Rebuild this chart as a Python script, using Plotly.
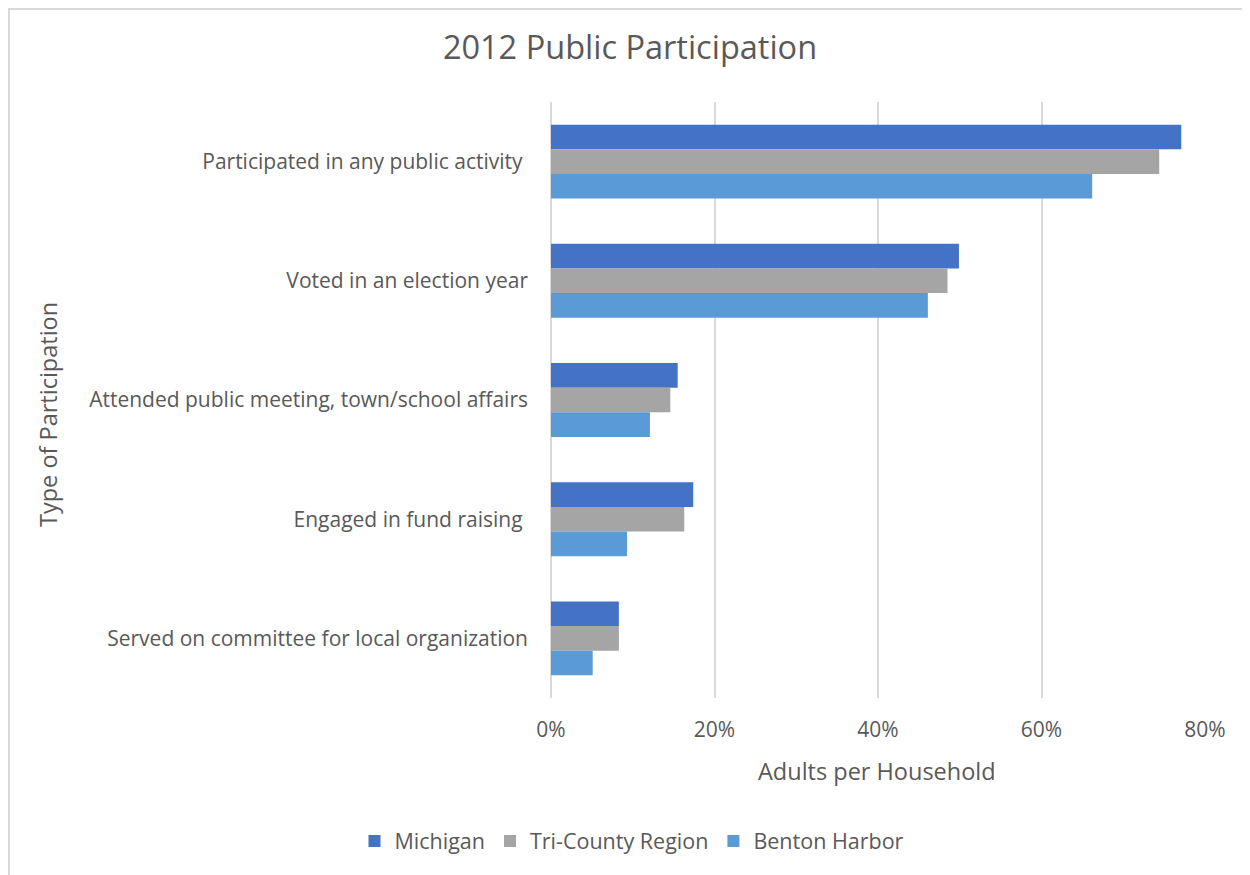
import plotly.graph_objects as go

categories = [
    "Participated in any public activity\u00a0",
    "Voted in an election year",
    "Attended public meeting, town/school affairs",
    "Engaged in fund raising\u00a0",
    "Served on committee for local organization",
]
michigan = [0.771, 0.499, 0.155, 0.174, 0.083]
tri_county = [0.744, 0.485, 0.146, 0.163, 0.083]
benton_harbor = [0.662, 0.461, 0.121, 0.093, 0.051]
x_ticks = [0, 0.2, 0.4, 0.6, 0.8]
x_tick_labels = ["0%", "20%", "40%", "60%", "80%"]

series = [
    ("Michigan", michigan, "#4472C4"),
    ("Tri-County Region", tri_county, "#A5A5A5"),
    ("Benton Harbor", benton_harbor, "#5B9BD5"),
]

FONT = "'Open Sans', sans-serif"
TXT = "#595959"

fig = go.Figure()
for name, vals, color in series:
    fig.add_trace(go.Bar(
        y=categories, x=vals, name=name, orientation="h",
        marker=dict(color=color, line=dict(width=0)),
    ))

# page body has an 8px margin; work in reference pixels and shift
OFF = 8
W, H = 1242, 867
L, R, T, B = 551 - OFF, 1205 - OFF, 102 - OFF, 698 - OFF
pw, ph = R - L, B - T

def px(xp):
    return (xp - OFF - L) / pw

def py(yp):
    return (B - (yp - OFF)) / ph

fig.update_layout(
    width=W, height=H,
    margin=dict(l=L, r=W - R, t=T, b=H - B, autoexpand=False),
    paper_bgcolor="white", plot_bgcolor="white",
    font=dict(family=FONT, color=TXT, size=21),
    barmode="group", bargap=0.38, bargroupgap=0,
    title=dict(text="2012 Public Participation", x=(630 - OFF) / W, xref="container",
               xanchor="center", y=1 - (48 - OFF) / H, yref="container", yanchor="middle",
               font=dict(size=32.5, color=TXT, family=FONT)),
    legend=dict(orientation="h", x=(632 - OFF) / W, xref="container", xanchor="center",
                y=1 - (841 - OFF) / H, yref="container", yanchor="middle",
                font=dict(size=21.5, color=TXT), itemwidth=30,
                traceorder="normal"),
    xaxis=dict(range=[0, 0.8], tickvals=x_ticks, ticktext=x_tick_labels,
               showgrid=True, gridcolor="#D9D9D9", gridwidth=1.5,
               zeroline=True, zerolinecolor="#D9D9D9", zerolinewidth=1.5,
               showline=False, ticks="", ticklabelstandoff=17,
               tickfont=dict(size=21, color=TXT)),
    yaxis=dict(categoryorder="array", categoryarray=categories,
               autorange="reversed", showgrid=False, zeroline=False,
               showline=False, ticks="", ticklabelstandoff=22,
               tickfont=dict(size=21, color=TXT)),
    annotations=[
        dict(text="Type of Participation", textangle=-90, xref="paper", yref="paper",
             x=px(48), y=py(415), showarrow=False, xanchor="center", yanchor="middle",
             font=dict(size=23.5, color=TXT)),
        dict(text="Adults per Household", xref="paper", yref="paper",
             x=px(877), y=py(771), showarrow=False, xanchor="center", yanchor="middle",
             font=dict(size=23.5, color=TXT)),
    ],
    shapes=[
        dict(type="rect", xref="paper", yref="paper",
             x0=px(9), x1=px(1270), y0=py(900), y1=py(9),
             line=dict(color="#D9D9D9", width=2), fillcolor="rgba(0,0,0,0)", layer="below"),
    ],
)

fig.write_html("out.html")
